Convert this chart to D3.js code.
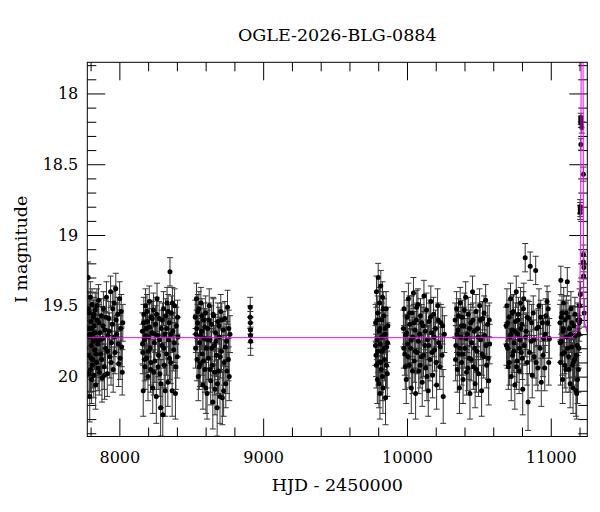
<!DOCTYPE html>
<html>
<head>
<meta charset="utf-8">
<script src="https://cdn.jsdelivr.net/npm/d3@7"></script>
<style>
  body { margin: 0; background: #fff; }
  svg text { font-family: "DejaVu Serif", serif; fill: #000; }
</style>
</head>
<body>
<div id="chart"></div>
<script>
// photometry: [HJD-2450000, I mag, error]
const season2017 = [[7783,19.30,0.11],[7786,19.66,0.13],[7788,19.85,0.15],[7791,19.55,0.12],[7794,20.14,0.18],[7796,19.72,0.14],[7799,19.95,0.16],[7802,19.61,0.12],[7805,19.78,0.14],[7807,20.02,0.17],[7810,19.49,0.11],[7813,19.70,0.13],[7816,19.88,0.15],[7819,19.58,0.12],[7822,19.99,0.16],[7825,19.64,0.13],[7828,19.81,0.14],[7832,19.53,0.12],[7835,20.06,0.17],[7838,19.74,0.14],[7842,19.90,0.15],[7846,19.60,0.12],[7850,19.77,0.14],[7855,19.46,0.11],[7860,19.97,0.16],[7864,19.69,0.13],[7869,19.84,0.15],[7874,19.57,0.12],[7879,20.01,0.17],[7884,19.73,0.14],[7889,19.52,0.12],[7894,19.93,0.16],[7899,19.67,0.13],[7904,19.80,0.14],[7910,19.44,0.11],[7916,19.98,0.16],[7921,19.71,0.13],[7927,19.59,0.12],[7933,19.86,0.15],[7939,19.40,0.11],[7945,19.76,0.14],[7951,19.63,0.13],[7957,19.95,0.16],[7963,19.48,0.12],[7969,19.83,0.15],[7975,19.38,0.11],[7982,19.70,0.13],[7988,19.56,0.12],[7995,19.91,0.16],[8002,19.45,0.12],[8009,19.66,0.13],[8016,19.79,0.14],[8020,19.97,0.16],[8024,19.62,0.13],
  [7784,19.52,0.12],[7789,19.98,0.17],[7793,19.70,0.14],[7798,19.44,0.11],[7803,19.87,0.15],[7808,19.66,0.13],[7812,19.92,0.16],[7817,19.75,0.14],[7823,19.56,0.12],[7830,19.69,0.13],[7836,19.84,0.15],[7844,19.50,0.12],[7852,19.94,0.16],[7858,19.62,0.13],[7866,19.74,0.14],[7877,19.88,0.15],[7886,19.64,0.13],[7897,19.99,0.17],[7907,19.58,0.12],[7918,19.82,0.15],[7930,19.68,0.13],[7942,19.90,0.16],[7954,19.52,0.12],[7966,19.72,0.14],[7978,19.60,0.12],[7992,19.77,0.14],[8005,19.87,0.15],[8013,19.54,0.12]];
const season2018 = [[8160,19.68,0.13],[8163,19.83,0.15],[8166,20.10,0.18],[8170,19.56,0.12],[8174,19.74,0.14],[8178,19.93,0.16],[8182,19.50,0.12],[8186,19.66,0.13],[8190,19.87,0.15],[8195,19.61,0.12],[8199,20.00,0.17],[8204,19.72,0.14],[8208,19.47,0.11],[8213,19.80,0.14],[8217,19.95,0.16],[8222,19.58,0.12],[8227,19.69,0.13],[8232,20.08,0.18],[8237,19.53,0.12],[8242,19.76,0.14],[8247,19.89,0.15],[8252,19.63,0.13],[8257,20.14,0.19],[8262,19.45,0.11],[8267,19.71,0.13],[8272,19.85,0.15],[8277,19.59,0.12],[8282,19.98,0.16],[8287,20.22,0.20],[8292,19.66,0.13],[8297,19.78,0.14],[8302,20.27,0.21],[8307,19.52,0.12],[8312,19.92,0.16],[8317,19.70,0.13],[8322,19.57,0.12],[8327,19.84,0.15],[8332,19.48,0.11],[8337,20.04,0.17],[8342,19.74,0.14],[8347,19.62,0.13],[8352,19.26,0.10],[8357,19.90,0.15],[8362,19.55,0.12],[8367,20.10,0.18],[8372,19.68,0.13],[8378,19.81,0.15],[8384,19.50,0.12],[8390,20.12,0.18],[8396,19.64,0.13],[8402,19.86,0.15],[8407,19.72,0.14],
  [8161,19.77,0.14],[8168,19.62,0.13],[8176,19.88,0.15],[8184,19.71,0.14],[8192,19.54,0.12],[8201,19.82,0.15],[8210,19.65,0.13],[8219,19.90,0.16],[8229,19.59,0.12],[8239,19.97,0.16],[8249,19.70,0.13],[8259,19.56,0.12],[8269,19.93,0.16],[8279,19.74,0.14],[8289,20.05,0.17],[8299,19.60,0.12],[8309,19.80,0.14],[8319,20.10,0.18],[8329,19.66,0.13],[8339,19.54,0.12],[8349,19.87,0.15],[8359,19.70,0.13],[8369,19.48,0.11],[8381,19.76,0.14],[8393,19.93,0.16],[8405,19.58,0.12]];
const season2019 = [[8528,19.58,0.12],[8532,19.70,0.13],[8536,19.45,0.11],[8540,19.88,0.15],[8544,19.62,0.13],[8549,20.00,0.17],[8553,19.52,0.12],[8558,19.76,0.14],[8562,19.91,0.16],[8567,19.48,0.11],[8572,19.68,0.13],[8576,19.84,0.15],[8581,20.06,0.17],[8586,19.60,0.12],[8590,19.73,0.14],[8595,19.95,0.16],[8600,19.55,0.12],[8605,19.80,0.14],[8610,20.12,0.18],[8615,19.66,0.13],[8620,19.87,0.15],[8625,19.50,0.12],[8630,19.74,0.14],[8635,20.03,0.17],[8640,19.63,0.13],[8645,19.92,0.16],[8650,20.18,0.19],[8655,19.57,0.12],[8660,19.78,0.14],[8665,20.09,0.18],[8670,19.69,0.13],[8675,19.85,0.15],[8680,20.22,0.20],[8685,19.61,0.13],[8690,19.96,0.16],[8695,19.72,0.14],[8700,20.14,0.19],[8705,19.54,0.12],[8710,19.82,0.15],[8716,20.15,0.19],[8722,19.67,0.13],[8728,19.90,0.16],[8734,19.59,0.12],[8740,20.05,0.17],[8746,19.75,0.14],[8752,19.51,0.12],[8758,19.88,0.15],[8764,20.00,0.17],[8769,19.70,0.13],
  [8530,19.80,0.14],[8538,19.66,0.13],[8546,19.54,0.12],[8556,19.93,0.16],[8564,19.71,0.14],[8574,19.57,0.12],[8584,19.89,0.15],[8593,19.65,0.13],[8602,20.08,0.18],[8612,19.74,0.14],[8622,19.60,0.12],[8632,19.95,0.16],[8642,19.80,0.14],[8652,19.56,0.12],[8662,19.97,0.16],[8672,19.75,0.14],[8682,20.05,0.17],[8692,19.64,0.13],[8702,19.86,0.15],[8712,19.60,0.12],[8725,20.10,0.18],[8737,19.79,0.14],[8749,19.96,0.16],[8761,19.66,0.13]];
const season2020 = [[8910,19.51,0.07],[8910,19.58,0.08],[8911,19.62,0.08],[8912,19.67,0.09],[8912,19.71,0.09],[8913,19.75,0.10]];
const season2022 = [[9782,19.62,0.13],[9785,19.85,0.15],[9788,19.40,0.11],[9791,19.74,0.14],[9794,20.02,0.17],[9797,19.55,0.12],[9800,19.30,0.10],[9803,19.90,0.16],[9806,19.68,0.13],[9809,19.48,0.11],[9812,20.12,0.18],[9815,19.77,0.14],[9818,19.36,0.11],[9821,19.95,0.16],[9824,19.60,0.12],[9827,19.82,0.15],[9830,19.44,0.11],[9833,20.08,0.18],[9836,19.71,0.13],[9839,19.57,0.12],[9843,19.88,0.15],[9847,19.66,0.13],[9851,20.15,0.19],[9855,19.52,0.12],[9859,19.79,0.14],[9863,19.98,0.16],[9867,19.64,0.13],
  [9781,19.78,0.14],[9787,19.92,0.16],[9793,19.60,0.12],[9799,19.82,0.15],[9805,20.05,0.17],[9811,19.66,0.13],[9817,19.90,0.16],[9823,19.72,0.14],[9829,20.00,0.17],[9835,19.52,0.12],[9841,19.80,0.15],[9849,19.70,0.13],[9857,19.92,0.16],[9865,19.76,0.14]];
const season2023 = [[9975,19.66,0.13],[9980,19.52,0.12],[9985,19.84,0.15],[9990,19.71,0.14],[9995,20.02,0.17],[10000,19.58,0.12],[10005,19.77,0.14],[10010,19.45,0.11],[10015,19.92,0.16],[10020,19.63,0.13],[10025,19.80,0.14],[10030,20.08,0.18],[10035,19.55,0.12],[10040,19.72,0.14],[10045,19.41,0.11],[10050,19.89,0.15],[10055,19.67,0.13],[10060,20.12,0.18],[10065,19.60,0.12],[10070,19.83,0.15],[10076,19.49,0.11],[10082,19.96,0.16],[10088,19.70,0.13],[10094,19.57,0.12],[10100,19.86,0.15],[10106,20.04,0.17],[10112,19.64,0.13],[10118,19.43,0.11],[10124,19.78,0.14],[10130,19.94,0.16],[10136,19.53,0.12],[10142,19.74,0.14],[10148,20.10,0.18],[10154,19.61,0.13],[10160,19.88,0.15],[10166,19.47,0.11],[10172,19.69,0.13],[10178,19.99,0.16],[10185,19.56,0.12],[10192,19.81,0.15],[10199,19.66,0.13],[10206,20.06,0.17],[10213,19.50,0.12],[10220,19.76,0.14],[10228,19.93,0.16],[10236,19.62,0.13],[10244,19.85,0.15],[10252,20.14,0.19],[10260,19.70,0.13],
  [9978,19.80,0.14],[9988,19.93,0.16],[9998,19.69,0.13],[10008,19.86,0.15],[10018,19.55,0.12],[10028,19.74,0.14],[10038,19.96,0.16],[10048,19.62,0.13],[10058,19.82,0.15],[10068,19.51,0.12],[10079,19.75,0.14],[10091,19.92,0.16],[10103,19.62,0.13],[10115,19.85,0.15],[10127,19.68,0.13],[10139,20.00,0.17],[10151,19.78,0.14],[10163,19.58,0.12],[10175,19.83,0.15],[10189,19.72,0.14],[10203,19.90,0.16],[10217,19.60,0.12],[10232,19.79,0.14],[10248,19.64,0.13]];
const season2024 = [[10335,19.60,0.12],[10340,19.78,0.14],[10345,19.52,0.12],[10350,19.95,0.16],[10355,19.67,0.13],[10360,19.84,0.15],[10365,20.08,0.18],[10370,19.48,0.11],[10375,19.72,0.14],[10380,19.90,0.16],[10385,19.58,0.12],[10390,20.02,0.17],[10396,19.64,0.13],[10402,19.80,0.14],[10408,19.44,0.11],[10414,19.97,0.16],[10420,19.70,0.13],[10426,19.56,0.12],[10432,19.87,0.15],[10438,20.12,0.18],[10444,19.62,0.13],[10450,19.76,0.14],[10456,19.40,0.11],[10462,19.93,0.16],[10468,19.68,0.13],[10474,20.05,0.17],[10480,19.54,0.12],[10486,19.82,0.15],[10492,19.66,0.13],[10498,19.98,0.16],[10505,19.50,0.12],[10512,19.74,0.14],[10519,20.10,0.18],[10526,19.59,0.12],[10533,19.86,0.15],[10540,19.71,0.13],[10547,19.46,0.11],[10554,19.92,0.16],[10561,19.63,0.13],[10568,20.03,0.17],[10575,19.77,0.14],
  [10338,19.88,0.15],[10348,19.70,0.13],[10358,19.57,0.12],[10368,19.80,0.14],[10378,19.64,0.13],[10388,19.84,0.15],[10399,19.53,0.12],[10411,19.73,0.14],[10423,19.94,0.16],[10435,19.66,0.13],[10447,19.88,0.15],[10459,19.60,0.12],[10471,19.80,0.14],[10483,19.95,0.16],[10495,19.72,0.14],[10509,19.60,0.12],[10522,19.84,0.15],[10536,19.55,0.12],[10550,19.78,0.14],[10564,19.87,0.15],[10572,19.60,0.12]];
const season2025 = [[10690,19.64,0.13],[10695,19.50,0.12],[10700,19.80,0.14],[10705,19.93,0.16],[10710,19.58,0.12],[10715,19.72,0.14],[10720,19.45,0.11],[10725,20.00,0.17],[10730,19.67,0.13],[10735,19.85,0.15],[10740,19.54,0.12],[10745,19.76,0.14],[10750,20.06,0.17],[10755,19.61,0.13],[10760,19.40,0.11],[10765,19.89,0.15],[10770,19.70,0.13],[10775,19.56,0.12],[10780,19.96,0.16],[10785,19.74,0.14],[10790,19.48,0.11],[10795,19.83,0.15],[10800,19.63,0.13],[10805,20.09,0.18],[10810,19.52,0.12],[10815,19.78,0.14],[10822,19.16,0.10],[10828,19.68,0.13],[10835,19.90,0.16],[10842,20.18,0.20],[10849,19.59,0.12],[10857,19.22,0.10],[10864,19.75,0.14],[10871,19.99,0.16],[10878,19.55,0.12],[10885,19.86,0.15],[10895,19.25,0.10],[10902,19.66,0.13],[10910,19.94,0.16],[10918,19.50,0.12],[10926,19.80,0.14],[10934,20.04,0.17],[10942,19.62,0.13],[10950,19.73,0.14],[10958,19.94,0.16],[10966,19.57,0.12],[10974,19.47,0.11],[10982,19.52,0.12],[10990,19.73,0.14],
  [10692,19.78,0.14],[10702,19.62,0.13],[10712,19.90,0.16],[10722,19.70,0.13],[10732,19.55,0.12],[10742,19.82,0.15],[10752,19.68,0.13],[10762,19.93,0.16],[10772,19.60,0.12],[10782,19.80,0.14],[10792,19.66,0.13],[10802,19.87,0.15],[10812,19.45,0.11],[10825,19.72,0.14],[10838,19.58,0.12],[10852,19.83,0.15],[10867,19.62,0.13],[10882,19.74,0.14],[10898,19.90,0.16],[10914,19.65,0.13],[10930,19.58,0.12],[10946,19.85,0.15],[10962,19.70,0.13],[10978,19.62,0.13],[10986,19.90,0.16]];
const season2026 = [[11065,19.62,0.13],[11068,19.90,0.16],[11070,19.32,0.10],[11074,19.75,0.14],[11078,19.55,0.12],[11082,20.02,0.17],[11086,19.68,0.13],[11090,19.48,0.11],[11095,19.83,0.15],[11100,19.60,0.12],[11105,19.95,0.16],[11110,19.72,0.14],[11115,19.33,0.10],[11120,19.58,0.12],[11125,19.86,0.15],[11130,19.66,0.13],[11135,20.05,0.17],[11140,19.52,0.12],[11145,19.79,0.14],[11150,19.92,0.16],[11155,20.08,0.18],[11160,19.64,0.13],[11165,19.88,0.15],[11170,19.71,0.14],[11175,20.10,0.18],[11180,20.12,0.18],[11184,19.78,0.14],[11188,19.60,0.12],[11192,19.95,0.16],[11196,19.70,0.13],[11200,19.50,0.12],
  [11066,19.76,0.14],[11072,19.58,0.12],[11080,19.84,0.15],[11088,19.66,0.13],[11098,19.92,0.16],[11108,19.55,0.12],[11118,19.80,0.14],[11128,19.95,0.16],[11138,19.70,0.13],[11148,19.62,0.12],[11158,19.90,0.16],[11168,19.56,0.12],[11178,19.85,0.15],[11186,20.02,0.17],[11194,19.80,0.14],[11198,19.62,0.13]];
const eventPoints = [[11209,18.17,0.03],[11209,18.19,0.03],[11210,18.21,0.03],[11216,18.24,0.04],[11209,18.36,0.04],[11227,18.57,0.05],[11204,18.80,0.05],[11205,18.82,0.05],[11204,18.84,0.05],[11227,19.14,0.07],[11227,19.19,0.07],[11230,19.23,0.08],[11228,19.29,0.08],[11232,19.55,0.10],[11206,19.42,0.09],[11203,19.60,0.11]];

// model light curve: [HJD-2450000, I mag]
const modelCurve = [[7777,19.725],[11140,19.725],[11170,19.70],[11190,19.62],[11200,19.45],[11205,19.20],[11208,18.80],[11210,18.20],[11212,17.60],[11218,17.20],[11224,17.60],[11226,18.40],[11227,19.00],[11229,19.45],[11235,19.62],[11254,19.69]];

const xDomain = [7777, 11254];
const yDomain = [17.78, 20.423];
const xMajor = [8000, 9000, 10000, 11000];
const yMajor = [18, 18.5, 19, 19.5, 20];

const title = "OGLE-2026-BLG-0884";
const xTitle = "HJD - 2450000";
const yTitle = "I magnitude";

const width = 600, height = 512;
const margin = {top: 62.3, right: 12.7, bottom: 75.5, left: 87.3};
const iw = width - margin.left - margin.right;
const ih = height - margin.top - margin.bottom;

const svg = d3.select("#chart").append("svg")
    .attr("width", width)
    .attr("height", height);

const g = svg.append("g").attr("transform", `translate(${margin.left},${margin.top})`);

const x = d3.scaleLinear().domain(xDomain).range([0, iw]);
const y = d3.scaleLinear().domain(yDomain).range([0, ih]);

svg.append("defs").append("clipPath").attr("id", "plotClip")
    .append("rect").attr("width", iw).attr("height", ih);

const xMinor = d3.range(7800, 11254, 200).filter(v => !xMajor.includes(v));
const yMinor = d3.range(178, 205, 1).map(v => v / 10).filter(v => !yMajor.includes(v));

function axisGroup(axis, tx, ty, cls) {
    const a = g.append("g").attr("class", cls).attr("transform", `translate(${tx},${ty})`).call(axis);
    a.select(".domain").remove();
    a.selectAll("line").attr("stroke", "#000");
    return a;
}

// major + minor ticks, all pointing into the frame
const bx = axisGroup(d3.axisBottom(x).tickValues(xMajor).tickSize(-18).tickPadding(15).tickFormat(d3.format("d")), 0, ih, "xb");
axisGroup(d3.axisBottom(x).tickValues(xMinor).tickSize(-9).tickFormat(""), 0, ih, "xbm");
axisGroup(d3.axisTop(x).tickValues(xMajor).tickSize(-18).tickFormat(""), 0, 0, "xt");
axisGroup(d3.axisTop(x).tickValues(xMinor).tickSize(-9).tickFormat(""), 0, 0, "xtm");
const ly = axisGroup(d3.axisLeft(y).tickValues(yMajor).tickSize(-18).tickPadding(9).tickFormat(d => String(d)), 0, 0, "yl");
axisGroup(d3.axisLeft(y).tickValues(yMinor).tickSize(-9).tickFormat(""), 0, 0, "ylm");
axisGroup(d3.axisRight(y).tickValues(yMajor).tickSize(-18).tickFormat(""), iw, 0, "yr");
axisGroup(d3.axisRight(y).tickValues(yMinor).tickSize(-9).tickFormat(""), iw, 0, "yrm");

bx.selectAll("text").style("font-size", "16px");
ly.selectAll("text").style("font-size", "16px");

const allPoints = [].concat(season2017, season2018, season2019, season2020, season2022,
    season2023, season2024, season2025, season2026, eventPoints);

const pts = g.append("g").attr("clip-path", "url(#plotClip)");

const bars = pts.selectAll("g.bar").data(allPoints).enter().append("g").attr("class", "bar");
bars.append("line")
    .attr("x1", d => x(d[0])).attr("x2", d => x(d[0]))
    .attr("y1", d => y(d[1] - d[2])).attr("y2", d => y(d[1] + d[2]))
    .attr("stroke", "#333").attr("stroke-width", 1);
bars.append("line")
    .attr("x1", d => x(d[0]) - 3).attr("x2", d => x(d[0]) + 3)
    .attr("y1", d => y(d[1] - d[2])).attr("y2", d => y(d[1] - d[2]))
    .attr("stroke", "#333").attr("stroke-width", 1);
bars.append("line")
    .attr("x1", d => x(d[0]) - 3).attr("x2", d => x(d[0]) + 3)
    .attr("y1", d => y(d[1] + d[2])).attr("y2", d => y(d[1] + d[2]))
    .attr("stroke", "#333").attr("stroke-width", 1);

pts.selectAll("circle").data(allPoints).enter().append("circle")
    .attr("cx", d => x(d[0]))
    .attr("cy", d => y(d[1]))
    .attr("r", 2.5)
    .attr("fill", "#000");

pts.append("path")
    .datum(modelCurve)
    .attr("fill", "none")
    .attr("stroke", "#ff00ff")
    .attr("stroke-width", 1)
    .attr("d", d3.line().x(d => x(d[0])).y(d => y(d[1])));

// frame
g.append("rect").attr("width", iw).attr("height", ih)
    .attr("fill", "none").attr("stroke", "#000").attr("stroke-width", 1);

svg.append("text").attr("x", margin.left + iw / 2).attr("y", 41)
    .attr("text-anchor", "middle").style("font-size", "17.5px").text(title);
svg.append("text").attr("x", margin.left + iw / 2).attr("y", 491)
    .attr("text-anchor", "middle").style("font-size", "17.5px").text(xTitle);
svg.append("text")
    .attr("transform", `translate(27,${margin.top + ih / 2}) rotate(-90)`)
    .attr("text-anchor", "middle").style("font-size", "17.5px").text(yTitle);
</script>
</body>
</html>
